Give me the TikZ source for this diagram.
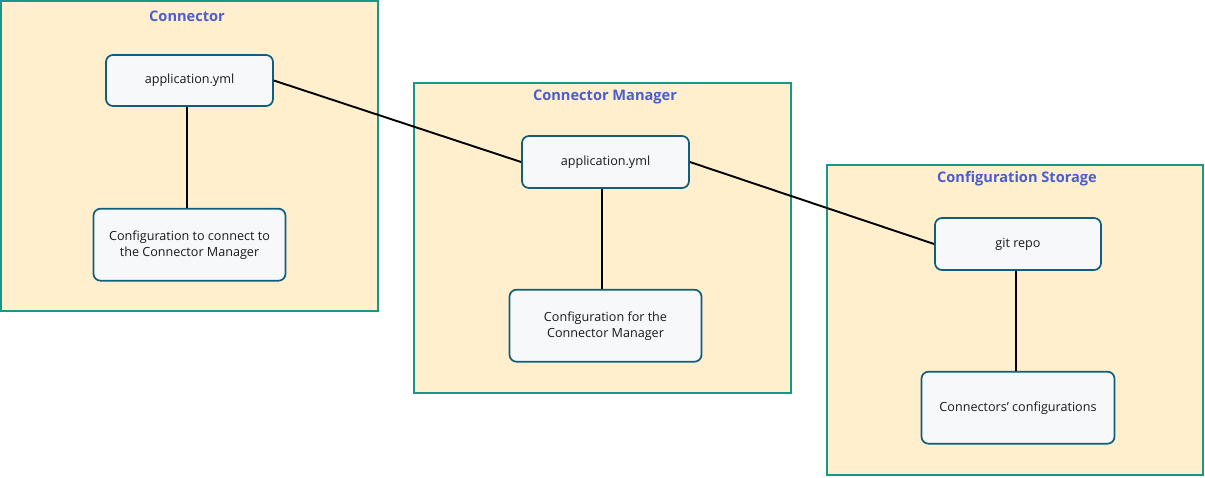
\documentclass[tikz,border=0pt]{standalone}
\usepackage{fontspec}
\setmainfont{Open Sans}
\usepackage{tikz}
\usetikzlibrary{positioning}
\definecolor{grpfill}{HTML}{FFEFCC}
\definecolor{grpline}{HTML}{17968A}
\definecolor{grptext}{HTML}{4A5ECF}
\definecolor{boxfill}{HTML}{F7F8FA}
\definecolor{boxline}{HTML}{0F5E80}
\tikzset{
  cfggroup/.style={draw=grpline, line width=1.6pt, fill=grpfill, inner sep=0pt},
  cfgtitle/.style={font=\bfseries\fontsize{14.6}{16}\selectfont, text=grptext, inner sep=0pt},
  cfgbox/.style={draw=boxline, line width=1.7pt, fill=boxfill, rounded corners=7pt, align=center, font=\fontsize{12.6}{16}\selectfont, text=black!90},
  cfglink/.style={line width=1.9pt}
}
\begin{document}
\begin{tikzpicture}[x=1pt, y=-1pt, node distance=101pt]
\useasboundingbox (0,0) rectangle (1205,477);
% groups
\node[cfggroup, minimum width=377pt, minimum height=310pt] (grpconn) at (189.5,156) {};
\node[cfggroup, minimum width=377pt, minimum height=310pt] (grpmgr) at (602.5,238) {};
\node[cfggroup, minimum width=376pt, minimum height=310pt] (grpstore) at (1015,320) {};
\node[cfgtitle] (tconn) at (187,16) {Connector};
\node[cfgtitle] (tmgr) at (605,97) {Connector Manager};
\node[cfgtitle] (tstore) at (1017,179) {Configuration Storage};
% connector
\node[cfgbox, minimum width=167pt, minimum height=51pt] (appconn) at (189.5,80.5) {application.yml};
\node[cfgbox, minimum width=192pt, minimum height=72pt, below=of appconn] (cfgconn) {Configuration to connect to\\the Connector Manager};
% manager
\node[cfgbox, minimum width=167pt, minimum height=52pt] (appmgr) at (605.5,162) {application.yml};
\node[cfgbox, minimum width=192pt, minimum height=72pt, below=100pt of appmgr] (cfgmgr) {Configuration for the\\Connector Manager};
% storage
\node[cfgbox, minimum width=166pt, minimum height=52pt] (gitrepo) at (1018,244) {git repo};
\node[cfgbox, minimum width=193pt, minimum height=72pt, below=100pt of gitrepo] (cfgall) {Connectors' configurations};
% links
\draw[cfglink] ([xshift=-2.5pt]appconn.south) -- ([xshift=-2.5pt]cfgconn.north);
\draw[cfglink] ([xshift=-3.5pt]appmgr.south) -- ([xshift=-3.5pt]cfgmgr.north);
\draw[cfglink] ([xshift=-2pt]gitrepo.south) -- ([xshift=-2pt]cfgall.north);
\draw[cfglink] (appconn.east) -- (appmgr.west);
\draw[cfglink] (appmgr.east) -- (gitrepo.west);
\end{tikzpicture}
\end{document}
